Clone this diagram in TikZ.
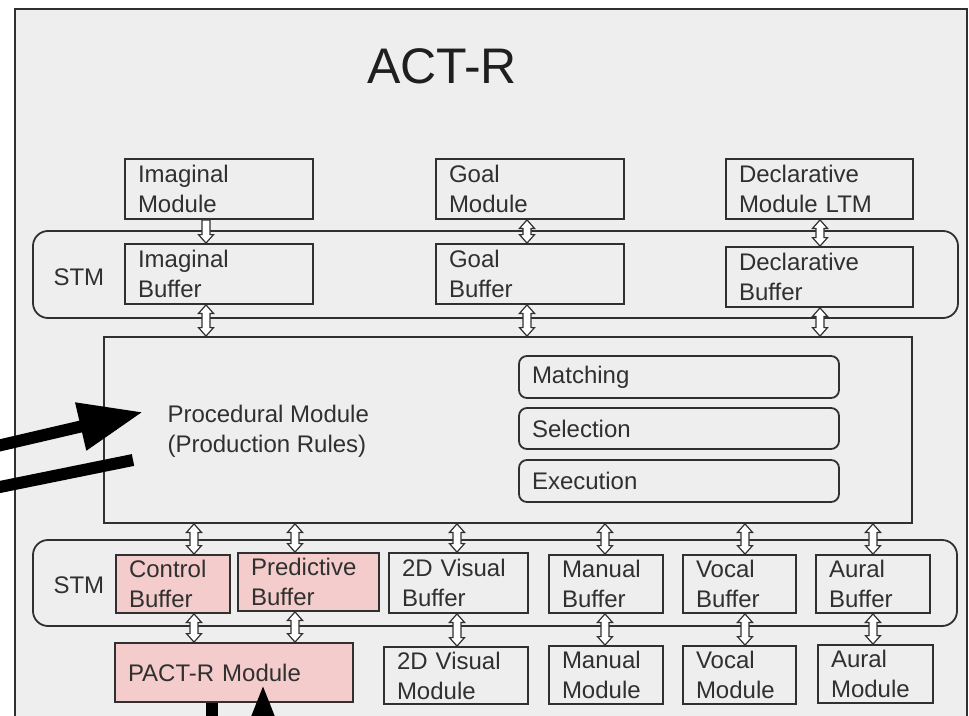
\documentclass[tikz,border=0pt]{standalone}
\usepackage{fontspec}
\setmainfont{Liberation Sans}
\usetikzlibrary{arrows.meta,calc}
\definecolor{bg}{HTML}{EEEEEE}
\definecolor{ink}{HTML}{303030}
\definecolor{pinkfill}{HTML}{F4CCCC}

% \placebox{name}{x1}{y1}{x2}{y2}{style}{text}: a box given by its corners
\newcommand\placebox[7]{%
  \pgfmathsetmacro\bxw{#4-#2}%
  \pgfmathsetmacro\bxh{#5-#3}%
  \pgfmathsetmacro\bxt{#4-#2-26}%
  \pgfmathsetmacro\bxc{(#2+#4)/2}%
  \pgfmathsetmacro\byc{(#3+#5)/2}%
  \node[#6, minimum width=\bxw bp, minimum height=\bxh bp, text width=\bxt bp]
    (#1) at (\bxc,\byc) {#7};}

\begin{document}
\begin{tikzpicture}[x=1bp,y=-1bp,
  every node/.style={font=\fontsize{24bp}{30bp}\selectfont, text=ink},
  box/.style={draw=ink, line width=1.8bp, fill=bg, inner xsep=13bp, inner ysep=0pt, align=left},
  pinkbox/.style={box, fill=pinkfill},
  stage/.style={box, rounded corners=8bp},
  band/.style={draw=ink, line width=1.8bp, rounded corners=15bp, inner sep=0pt},
  % hollow block arrow with a head at both ends (vertical, top to bottom)
  dbl/.style={draw=ink, fill=white, line width=1.2bp, line join=miter,
    to path={let \p1=(\tikztostart), \p2=(\tikztotarget) in
      (\x1,\y1) -- (\x1-7.5bp,\y1-8.5bp) -- (\x1-4bp,\y1-8.5bp) -- (\x1-4bp,\y2+8.5bp)
      -- (\x1-7.5bp,\y2+8.5bp) -- (\x1,\y2) -- (\x1+7.5bp,\y2+8.5bp) -- (\x1+4bp,\y2+8.5bp)
      -- (\x1+4bp,\y1-8.5bp) -- (\x1+7.5bp,\y1-8.5bp) -- cycle}},
  % hollow block arrow with a head at the lower end only
  sgl/.style={draw=ink, fill=white, line width=1.2bp, line join=miter,
    to path={let \p1=(\tikztostart), \p2=(\tikztotarget) in
      (\x1-4bp,\y1) -- (\x1-4bp,\y2+8.5bp) -- (\x1-7.5bp,\y2+8.5bp) -- (\x1,\y2)
      -- (\x1+7.5bp,\y2+8.5bp) -- (\x1+4bp,\y2+8.5bp) -- (\x1+4bp,\y1) -- cycle}},
  bigarrow/.style={line width=12bp, black, -{Triangle[length=64bp,width=46bp]}},
  bigline/.style={line width=12bp, black}]

\useasboundingbox (0,0) rectangle (969,716);
\clip (0,0) rectangle (969,716);
\fill[white] (0,0) rectangle (969,716);

% outer frame
\draw[draw=ink, line width=2.4bp, fill=bg] (15,9) rectangle (967,760);
\node[font=\fontsize{50bp}{60bp}\selectfont, text=black!88, anchor=base] (title) at (442,84) {ACT-R};

% short-term memory bands
\placebox{stmtop}{33}{231}{958}{318}{band}{}
\placebox{stmbot}{33}{540}{957}{626}{band}{}
\node[anchor=base west] (stmA) at (50,285) {STM};
\node[anchor=base west] (stmB) at (50,593) {STM};

% upper modules and their buffers
\placebox{imod}{125}{159}{313}{219}{box}{Imaginal\\Module}
\placebox{gmod}{436}{159}{624}{219}{box}{Goal\\Module}
\placebox{dmod}{726}{159}{913}{219}{box}{Declarative\\Module LTM}
\placebox{ibuf}{125}{244}{313}{304}{box}{Imaginal\\Buffer}
\placebox{gbuf}{436}{244}{624}{304}{box}{Goal\\Buffer}
\placebox{dbuf}{726}{247}{913}{307}{box}{Declarative\\Buffer}

% procedural module
\placebox{proc}{104}{337}{912}{523}{box}{}
\node[anchor=base west] (proclblA) at (164,422) {Procedural Module};
\node[anchor=base west] (proclblB) at (164,452) {(Production Rules)};
\placebox{match}{519}{356}{839}{398}{stage}{Matching}
\placebox{select}{519}{408}{839}{449}{stage}{Selection}
\placebox{exec}{519}{460}{839}{502}{stage}{Execution}

% lower buffers
\placebox{cbuf}{116}{555}{230}{613}{pinkbox}{Control\\Buffer}
\placebox{pbuf}{238}{553}{379}{611}{pinkbox}{Predictive\\Buffer}
\placebox{vbuf}{389}{553}{528}{613}{box}{2D Visual\\Buffer}
\placebox{mbuf}{549}{555}{663}{613}{box}{Manual\\Buffer}
\placebox{obuf}{683}{555}{796}{613}{box}{Vocal\\Buffer}
\placebox{abuf}{816}{555}{930}{613}{box}{Aural\\Buffer}

% lower modules
\placebox{pact}{115}{643}{353}{702}{pinkbox}{PACT-R Module}
\placebox{vmod}{384}{647}{528}{704}{box}{2D Visual\\Module}
\placebox{mmod}{549}{646}{663}{704}{box}{Manual\\Module}
\placebox{omod}{683}{646}{796}{704}{box}{Vocal\\Module}
\placebox{amod}{818}{645}{933}{703}{box}{Aural\\Module}

% hollow connectors, upper part
\draw[sgl] (imod.south -| 206,0) to (ibuf.north -| 206,0);
\draw[dbl] (gmod.south -| 527,0) to (gbuf.north -| 527,0);
\draw[dbl] (dmod.south -| 820,0) to (dbuf.north -| 820,0);
\draw[dbl] (ibuf.south -| 206,0) to (proc.north -| 206,0);
\draw[dbl] (gbuf.south -| 527,0) to (proc.north -| 527,0);
\draw[dbl] (dbuf.south -| 820,0) to (proc.north -| 820,0);

% hollow connectors, lower part
\draw[dbl] (proc.south -| 194,0) to (cbuf.north -| 194,0);
\draw[dbl] (proc.south -| 295,0) to (pbuf.north -| 295,0);
\draw[dbl] (proc.south -| 457,0) to (vbuf.north -| 457,0);
\draw[dbl] (proc.south -| 605,0) to (mbuf.north -| 605,0);
\draw[dbl] (proc.south -| 745,0) to (obuf.north -| 745,0);
\draw[dbl] (proc.south -| 873,0) to (abuf.north -| 873,0);
\draw[dbl] (cbuf.south -| 194,0) to (pact.north -| 194,0);
\draw[dbl] (pbuf.south -| 295,0) to (pact.north -| 295,0);
\draw[dbl] (vbuf.south -| 457,0) to (vmod.north -| 457,0);
\draw[dbl] (mbuf.south -| 605,0) to (mmod.north -| 605,0);
\draw[dbl] (obuf.south -| 745,0) to (omod.north -| 745,0);
\draw[dbl] (abuf.south -| 873,0) to (amod.north -| 873,0);

% heavy external links
\coordinate (inFrom) at (-20,450);
\coordinate (inTip) at (143,412);
\coordinate (outFrom) at (133,460);
\coordinate (outTo) at (-20,491);
\draw[bigarrow] (inFrom) -- (inTip);
\draw[bigline] (outFrom) -- (outTo);
\coordinate (downTo) at (212,760);
\coordinate (upFrom) at (263,790);
\coordinate (upTip) at (263,685);
\draw[bigline] (pact.south -| 212,0) -- (downTo);
\draw[bigarrow] (upFrom) -- (upTip);
\end{tikzpicture}
\end{document}
